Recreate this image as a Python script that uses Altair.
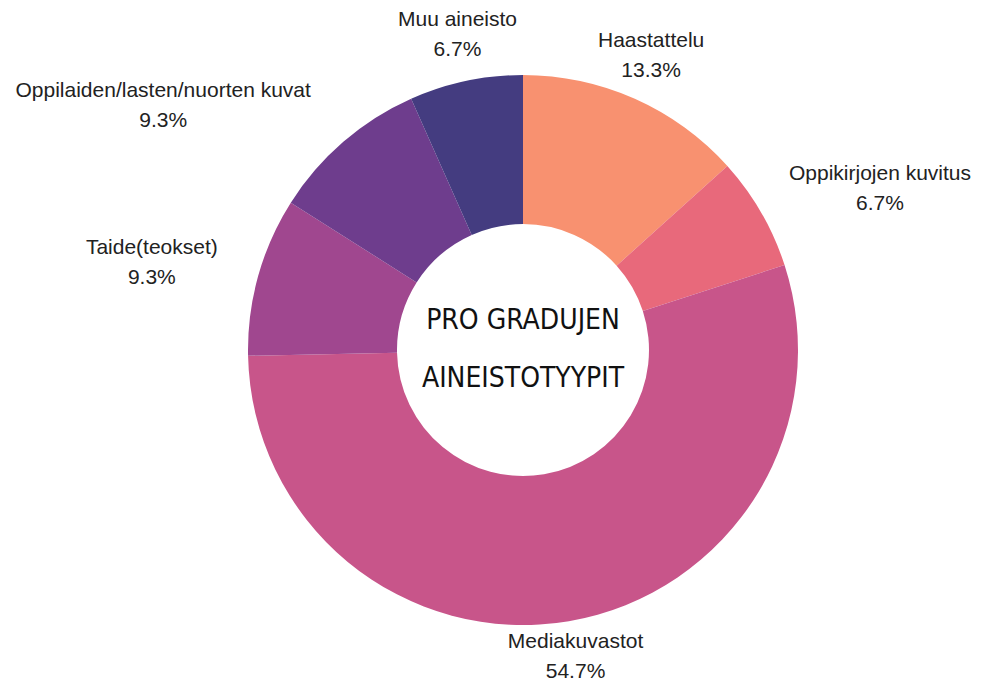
import altair as alt
import pandas as pd

categories = ["Haastattelu", "Oppikirjojen kuvitus", "Mediakuvastot",
              "Taide(teokset)", "Oppilaiden/lasten/nuorten kuvat", "Muu aineisto"]
counts = [10, 5, 41, 7, 7, 5]
colors = ["#F89170", "#E8697B", "#C8558A", "#A0478F", "#6E3D8D", "#443C80"]
center_lines = ["PRO GRADUJEN", "AINEISTOTYYPIT"]

df = pd.DataFrame({"name": categories, "count": counts, "idx": list(range(len(categories)))})

W, H = 974, 674
CX, CY = 515, 342
R_OUT, R_IN, R_LAB = 275, 126, 300
FS, LH = 21, 30
CHAR_W = 9.6      # approximate average glyph width at FS
GAP = 15
LABEL_FONT = "Liberation Sans, Arial, sans-serif"

base = alt.Chart(df)

arcs = base.mark_arc(outerRadius=R_OUT, innerRadius=R_IN, stroke=None).encode(
    theta=alt.Theta("count:Q", stack=True),
    order=alt.Order("idx:Q"),
    color=alt.Color("name:N", scale=alt.Scale(domain=categories, range=colors), legend=None),
    x=alt.value(CX), y=alt.value(CY),
)

max_py = H - CY - LH / 2 - 10

labels = base.transform_window(
    cum="sum(count)", sort=[alt.SortField("idx")], frame=[None, 0]
).transform_joinaggregate(
    total="sum(count)"
).transform_calculate(
    mid="(datum.cum - datum.count / 2) / datum.total * 2 * PI",
    label="datum.name + '\\n' + format(datum.count / datum.total, '.1%')",
    w=f"length(datum.name) * {CHAR_W}",
).transform_calculate(
    s="sin(datum.mid)", c="cos(datum.mid)"
).transform_calculate(
    ox=f"abs(datum.s) > 0.5 ? (datum.s > 0 ? 1 : -1) * (datum.w / 2 + {GAP}) : datum.s * {GAP}",
    oy=f"-datum.c * {LH * 0.73}",
).transform_calculate(
    px=f"clamp({R_LAB} * datum.s + datum.ox, -({CX} - datum.w / 2 - 6), {W - CX} - datum.w / 2 - 6)",
    py=f"min(-{R_LAB} * datum.c + datum.oy, {max_py})",
).transform_calculate(
    lt="atan2(datum.px, -datum.py)",
    lr="sqrt(datum.px * datum.px + datum.py * datum.py)",
).mark_text(
    align="center", baseline="middle", dy=-LH / 2,
    lineBreak="\n", lineHeight=LH, fontSize=FS, font=LABEL_FONT, color="#222222",
).encode(
    theta=alt.Theta("lt:Q", scale=None),
    radius=alt.Radius("lr:Q", scale=None),
    text="label:N",
    x=alt.value(CX), y=alt.value(CY),
)

center = alt.Chart(pd.DataFrame({"t": ["\n".join(center_lines)]})).mark_text(
    lineBreak="\n", lineHeight=58, fontSize=28,
    font="Liberation Sans Narrow, DejaVu Sans Condensed, sans-serif",
    align="center", baseline="middle", color="#111111",
).encode(text="t:N", x=alt.value(CX), y=alt.value(CY - 29))

chart = alt.layer(arcs, labels, center).properties(
    width=W, height=H, padding=0, autosize=alt.AutoSizeParams(type="none"),
    background="white",
).configure_view(stroke=None)

chart.save("out.html", embed_options={"renderer": "svg", "actions": False})
